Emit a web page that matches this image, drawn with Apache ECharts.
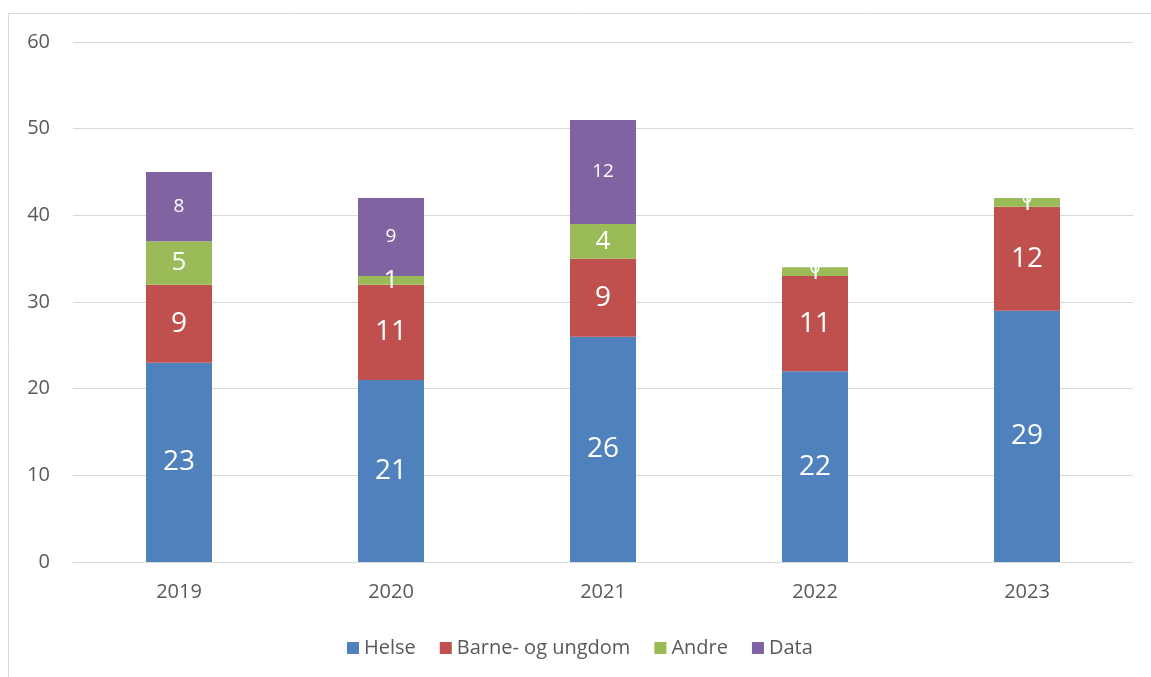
<!DOCTYPE html>
<html>
<head>
<meta charset="utf-8">
<script src="https://cdn.jsdelivr.net/npm/echarts@6/dist/echarts.min.js"></script>
<style>html,body{margin:0;padding:0;background:#fff;}#c{width:1151px;height:677px;}</style>
</head>
<body>
<div id="c"></div>
<script>
const categories = ['2019', '2020', '2021', '2022', '2023'];
const helse = [23, 21, 26, 22, 29];
const barne = [9, 11, 9, 11, 12];
const andre = [5, 1, 4, 1, 1];
const data = [8, 9, 12, 0, 0];
const yTicks = [0, 10, 20, 30, 40, 50, 60];

const font = 'Open Sans, Noto Sans, sans-serif';
const chart = echarts.init(document.getElementById('c'));
function mk(name, vals, color, fs) {
  return {
    name: name, type: 'bar', stack: 'total', data: vals, barWidth: 66,
    itemStyle: { color: color },
    label: { show: true, position: 'inside', color: '#fff', fontSize: fs, fontFamily: font },
    emphasis: { disabled: true }
  };
}
chart.setOption({
  animation: false,
  graphic: [{ type: 'rect', shape: { x: 8.5, y: 13.5, width: 1200, height: 700 },
    style: { fill: 'none', stroke: '#d9d9d9', lineWidth: 1 }, silent: true }],
  grid: { left: 73, right: 18, top: 42, bottom: 115 },
  legend: {
    left: 342, top: 633, itemWidth: 12, itemHeight: 12, itemGap: 24,
    icon: 'rect',
    textStyle: { fontSize: 20, color: '#595959', fontFamily: font },
    data: ['Helse', 'Barne- og ungdom', 'Andre', 'Data']
  },
  xAxis: {
    type: 'category', data: categories,
    axisLine: { lineStyle: { color: '#d9d9d9' } },
    axisTick: { show: false },
    axisLabel: { fontSize: 20, color: '#595959', margin: 20, fontFamily: font }
  },
  yAxis: {
    type: 'value', min: yTicks[0], max: yTicks[yTicks.length - 1], interval: 10,
    axisLine: { show: false }, axisTick: { show: false },
    splitLine: { lineStyle: { color: '#d9d9d9' } },
    axisLabel: { fontSize: 20, color: '#595959', margin: 23, fontFamily: font }
  },
  series: [
    mk('Helse', helse, '#4F81BD', 28),
    mk('Barne- og ungdom', barne, '#C0504D', 28),
    mk('Andre', andre, '#9BBB59', 26),
    mk('Data', data, '#8064A2', 19)
  ]
});
</script>
</body>
</html>
